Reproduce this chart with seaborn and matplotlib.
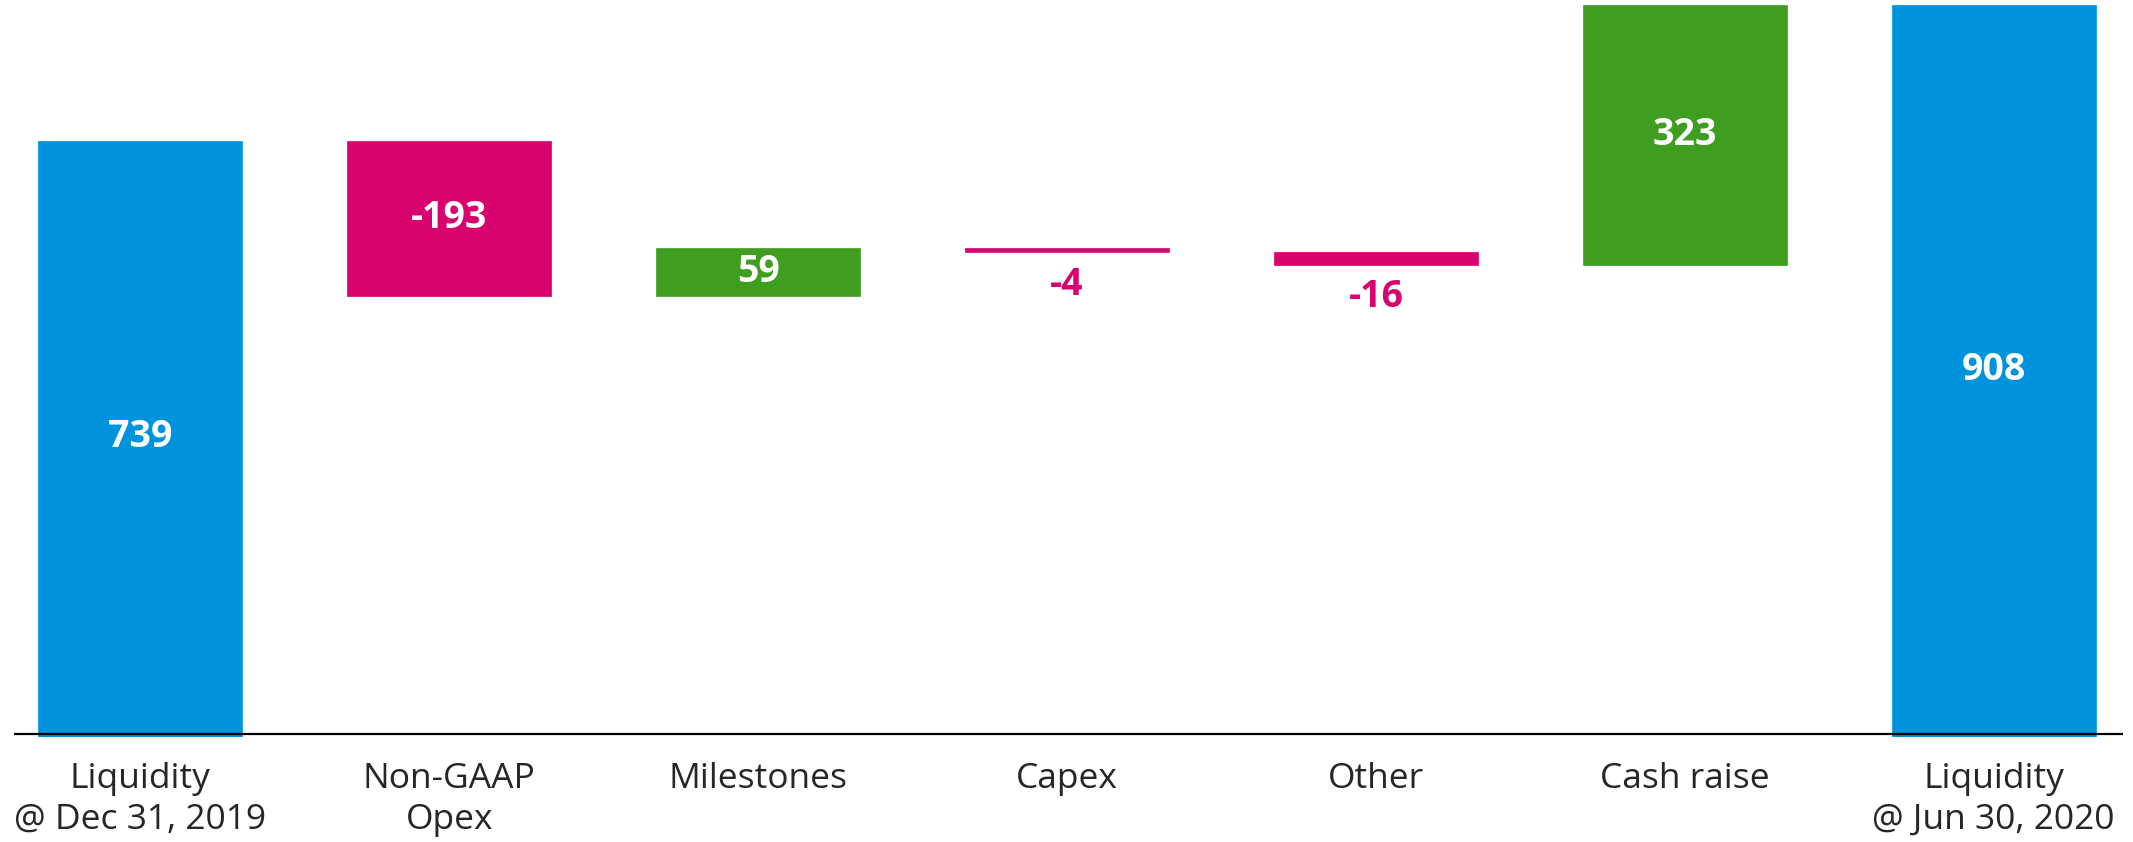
import matplotlib
matplotlib.use("Agg")
import matplotlib.pyplot as plt
import numpy as np
import pandas as pd
import seaborn as sns

# waterfall data (EUR m)
steps = ["Liquidity\n@ Dec 31, 2019", "Non-GAAP\nOpex", "Milestones", "Capex",
         "Other", "Cash raise", "Liquidity\n@ Jun 30, 2020"]
kinds = ["total", "delta", "delta", "delta", "delta", "delta", "total"]
values = [739, -193, 59, -4, -16, 323, 908]

BLUE = "#0093dd"
MAGENTA = "#d9036f"
GREEN = "#3f9d20"

# running levels -> bar bottoms / heights
bases, heights = [], []
level = 0
for kind, v in zip(kinds, values):
    if kind == "total":
        bases.append(0)
        heights.append(v)
        level = v
    else:
        bases.append(level)
        heights.append(v)
        level += v
colors = [BLUE if k == "total" else (GREEN if v > 0 else MAGENTA) for k, v in zip(kinds, values)]

df = pd.DataFrame({"step": steps, "height": heights, "base": bases})

sns.set_style("white")
plt.rcParams["font.family"] = ["Open Sans", "DejaVu Sans"]

fig = plt.figure(figsize=(21.33, 8.42), dpi=100)
ax = fig.add_axes([0.0064, 0.1247, 0.9891, 0.8689])

# totals start a touch below the axis line, like the original
df.loc[df["base"] == 0, "base"] = -4
df.loc[[0, 6], "height"] = df.loc[[0, 6], "height"] + 4

sns.barplot(data=df, x="step", y="height", bottom=df["base"].values, color=BLUE,
            width=0.66, ax=ax)
for patch, c in zip(ax.patches, colors):
    patch.set_facecolor(c)
    patch.set_edgecolor(c)
    patch.set_linewidth(0.5)

# value labels
for i, (b, h, c) in enumerate(zip(bases, heights, colors)):
    lo, hi = min(b, b + h), max(b, b + h)
    if abs(h) >= 50:
        ax.text(i, (lo + hi) / 2, f"{h:d}", ha="center", va="center", color="white",
                fontsize=27, fontweight="bold")
    else:
        ax.annotate(f"{h:d}", (i, lo), xytext=(0, -10), textcoords="offset points",
                    ha="center", va="top", color=c, fontsize=27, fontweight="bold")

ax.axhline(0, color="black", lw=1.6, zorder=5)
ax.set_xlim(-0.41, 6.42)
ax.set_ylim(-4, 908)
ax.set_xlabel("")
ax.set_ylabel("")
ax.set_yticks([])
ax.tick_params(axis="x", length=0, pad=18, labelsize=25.5)
for lab in ax.get_xticklabels():
    lab.set_linespacing(1.25)
sns.despine(ax=ax, left=True, bottom=True)

fig.savefig("out.png", dpi=100)
